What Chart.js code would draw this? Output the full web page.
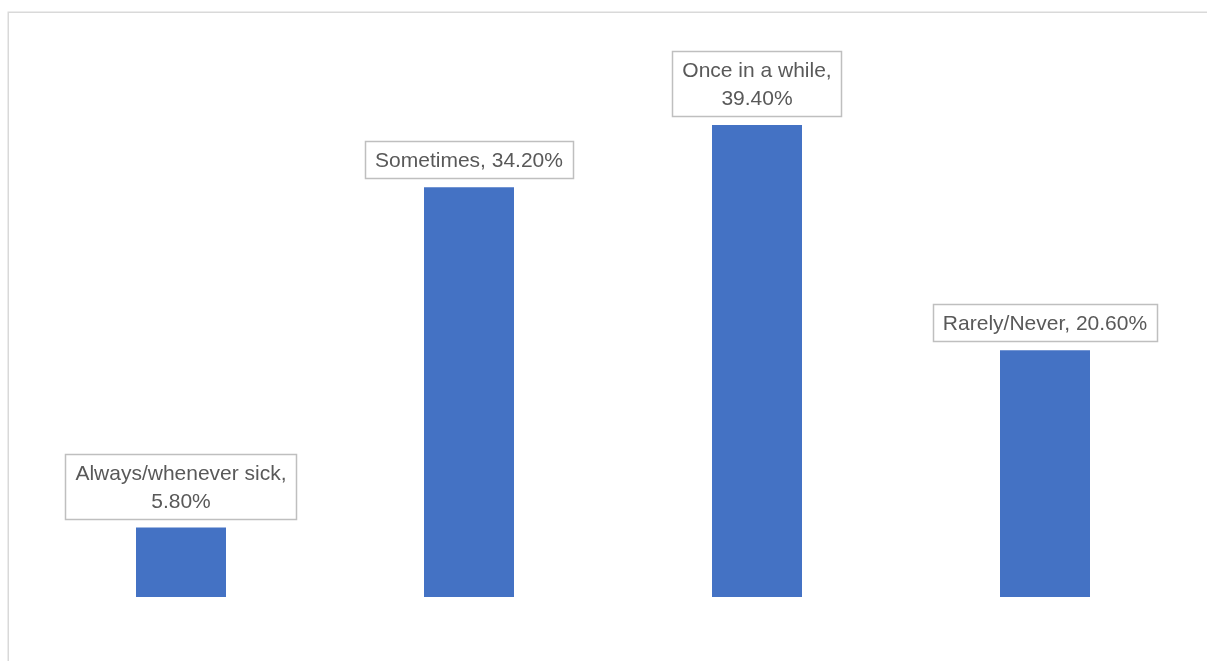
<!DOCTYPE html>
<html>
<head>
<meta charset="utf-8">
<script src="https://cdn.jsdelivr.net/npm/chart.js@4"></script>
<style>
  html, body { margin: 0; padding: 0; background: #fff; }
  #wrap { position: relative; width: 1207px; height: 661px; }
</style>
</head>
<body>
<div id="wrap"><canvas id="freq"></canvas></div>
<script>
// survey answers and their shares (%)
var categories = ["Always/whenever sick", "Sometimes", "Once in a while", "Rarely/Never"];
var shares = [5.8, 34.2, 39.4, 20.6];

var LABEL_FONT = '21px "Liberation Sans", Arial, sans-serif';
var LINE_H = 28;
var PAD_X = 10.5;
var PAD_Y = 5;
var WRAP_AT = 225;

// light frame around the chart (only top and left edges fall inside the canvas)
var framePlugin = {
  id: 'frame',
  beforeDraw: function(chart) {
    var ctx = chart.ctx;
    ctx.save();
    ctx.strokeStyle = '#d9d9d9';
    ctx.lineWidth = 1.5;
    ctx.strokeRect(8.25, 12.25, 1400, 800);
    ctx.restore();
  }
};

// boxed "category, value" labels above each bar
var boxLabels = {
  id: 'boxLabels',
  afterDatasetsDraw: function(chart) {
    var ctx = chart.ctx;
    var meta = chart.getDatasetMeta(0);
    ctx.save();
    ctx.font = LABEL_FONT;
    meta.data.forEach(function(bar, i) {
      var val = shares[i].toFixed(2) + '%';
      var full = categories[i] + ', ' + val;
      var lines = ctx.measureText(full).width > WRAP_AT ? [categories[i] + ',', val] : [full];
      var w = 0;
      lines.forEach(function(l) { w = Math.max(w, ctx.measureText(l).width); });
      var bw = Math.round(w + PAD_X * 2);
      var bh = lines.length * LINE_H + PAD_Y * 2;
      var x = Math.round(bar.x - bw / 2);
      var y = Math.round(bar.y - 8 - bh);
      ctx.fillStyle = '#ffffff';
      ctx.fillRect(x, y, bw, bh);
      ctx.strokeStyle = '#bfbfbf';
      ctx.lineWidth = 1.5;
      ctx.strokeRect(x + 0.5, y + 0.5, bw - 1, bh - 1);
      ctx.fillStyle = '#595959';
      ctx.textAlign = 'center';
      ctx.textBaseline = 'middle';
      lines.forEach(function(l, k) {
        ctx.fillText(l, bar.x, y + PAD_Y + LINE_H * k + LINE_H / 2 + 1);
      });
    });
    ctx.restore();
  }
};

var config = {
  type: 'bar',
  data: {
    labels: categories,
    datasets: [{
      data: shares,
      backgroundColor: '#4472c4',
      borderWidth: 0,
      categoryPercentage: 1,
      barPercentage: 0.3125
    }]
  },
  options: {
    responsive: true,
    maintainAspectRatio: false,
    animation: false,
    layout: { padding: { left: 37, right: 18, top: 58, bottom: 64 } },
    plugins: {
      legend: { display: false },
      tooltip: { enabled: false }
    },
    scales: {
      x: { display: false },
      y: { display: false, min: 0, max: 45 }
    }
  },
  plugins: [framePlugin, boxLabels]
};

const freqChart = new Chart(document.getElementById('freq'), config);
</script>
</body>
</html>
